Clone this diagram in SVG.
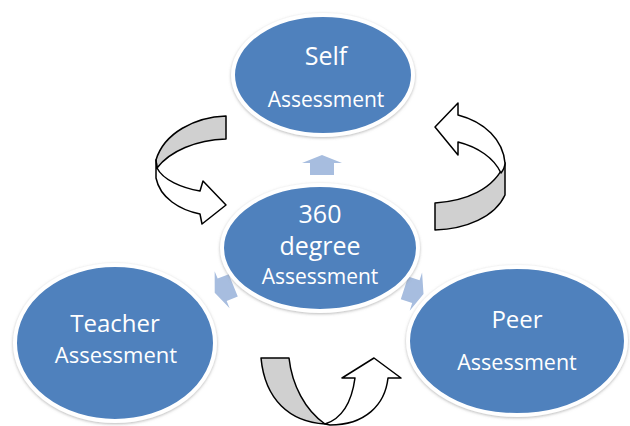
<svg xmlns="http://www.w3.org/2000/svg" xmlns:xlink="http://www.w3.org/1999/xlink" width="630" height="426" viewBox="0 0 630 426">
  <style>
    .node { fill: #4f81bd; stroke: #ffffff; stroke-width: 4; filter: url(#halo); }
    .label { font-family: "Open Sans", "Liberation Sans", sans-serif; fill: #ffffff; text-anchor: middle; }
    .pointer { fill: #a7bddf; }
    .back { fill: #d0d0d0; stroke: #000000; stroke-width: 1.5; stroke-linejoin: round; }
    .front { fill: #ffffff; stroke: #000000; stroke-width: 1.5; stroke-linejoin: round; }
  </style>
  <defs>
    <filter id="halo" x="-20%" y="-20%" width="140%" height="140%">
      <feDropShadow dx="0" dy="1" stdDeviation="1.8" flood-color="#7f7f7f" flood-opacity="0.55"/>
    </filter>
    <!-- small block arrow pointing up, centred on the origin -->
    <path id="blockArrow" d="M0,-10 L20,-2 L12,-2 L12,10 L-12,10 L-12,-2 L-20,-2 Z"/>
  </defs>

  <rect width="630" height="426" fill="#ffffff"/>

  <!-- connectors: radial pointers and circular arrows -->
  <g id="connectors">
    <use xlink:href="#blockArrow" class="pointer" transform="translate(322,165)"/>
    <use xlink:href="#blockArrow" class="pointer" transform="translate(224,289) rotate(-112)"/>
    <use xlink:href="#blockArrow" class="pointer" transform="translate(414,291) rotate(108)"/>

    <!-- left circular arrow -->
    <g id="loop-left">
      <path class="back" d="M226,116 C195,117 164,133 156,160 L157,168 C170,151 196,140 226,139 Z"/>
      <path class="front" d="M156,160 L156,178 C160,198 180,210 200,214 L202,224 L226,205 L203,181 L200,191 C182,188 163,180 157,168 Z"/>
    </g>

    <!-- right circular arrow -->
    <g id="loop-right">
      <path class="back" d="M435,203 C465,201 494,190 505,163 L505,195 C495,217 466,229 435,230 Z"/>
      <path class="front" d="M458,115 L458,103 L435,127 L458,155 L458,142 C478,147 494,158 501,173 C504,169 505,166 505,163 C503,140 485,122 458,115 Z"/>
    </g>

    <!-- bottom circular arrow -->
    <g id="loop-bottom">
      <path class="back" d="M261,358 L289,358 C292,385 305,410 325,424 C290,422 265,400 261,358 Z"/>
      <path class="front" d="M325,424 C344,418 352,400 355,378 L342,378 L374,358 L401,378 L388,378 C385,405 365,425 330,425 Z"/>
    </g>
  </g>

  <g id="self">
    <ellipse class="node" cx="323" cy="75" rx="90" ry="60"/>
    <text class="label" x="326" y="65" font-size="25">Self</text>
    <text class="label" x="326" y="107" font-size="21">Assessment</text>
  </g>

  <g id="center">
    <ellipse class="node" cx="320" cy="248" rx="98" ry="63"/>
    <text class="label" x="320" y="223" font-size="25">360</text>
    <text class="label" x="320" y="255" font-size="25">degree</text>
    <text class="label" x="320" y="284" font-size="21">Assessment</text>
  </g>

  <g id="teacher">
    <ellipse class="node" cx="115" cy="343" rx="100" ry="78"/>
    <text class="label" x="115" y="332" font-size="24">Teacher</text>
    <text class="label" x="116" y="363" font-size="22">Assessment</text>
  </g>

  <g id="peer">
    <ellipse class="node" cx="517" cy="341" rx="109" ry="74"/>
    <text class="label" x="517" y="328" font-size="24">Peer</text>
    <text class="label" x="517" y="370" font-size="21.5">Assessment</text>
  </g>
</svg>
